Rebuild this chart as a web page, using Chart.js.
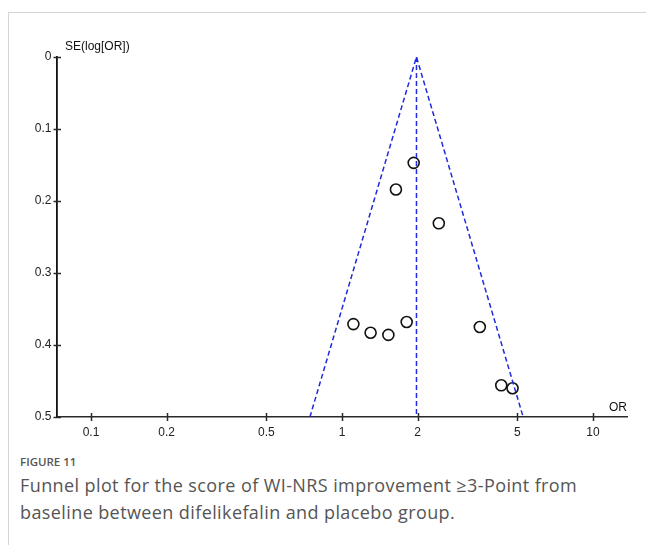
<!DOCTYPE html>
<html>
<head>
<meta charset="utf-8">
<script src="https://cdn.jsdelivr.net/npm/chart.js@4"></script>
<style>
  body { margin: 0; background: #fff; width: 646px; height: 545px; overflow: hidden; position: relative; }
  #frame { position: absolute; left: 8px; top: 12px; right: 0; bottom: 0; border-top: 1px solid #d4d4d4; border-left: 1px solid #d4d4d4; }
  #wrap { position: absolute; left: 0; top: 0; }
  .cap { position: absolute; left: 20px; font-family: "Open Sans", sans-serif; color: #555; }
  #fig { top: 454px; font-size: 11.5px; font-weight: 600; }
  #txt { top: 472px; width: 600px; font-size: 18px; line-height: 27px; letter-spacing: 0.4px; }
</style>
</head>
<body>
<div id="frame"></div>
<div id="wrap"><canvas id="funnel" width="646" height="450"></canvas></div>
<div class="cap" id="fig">FIGURE 11</div>
<div class="cap" id="txt">Funnel plot for the score of WI-NRS improvement ≥3-Point from baseline between difelikefalin and placebo group.</div>

<script>
  // study points
  const studyOR = [1.93, 1.64, 2.43, 1.11, 1.30, 1.53, 1.81, 3.54, 4.31, 4.78];
  const studySE = [0.147, 0.184, 0.231, 0.371, 0.383, 0.386, 0.368, 0.375, 0.456, 0.460];

  // funnel: apex and the two ends at SE = 0.5
  const pooledOR = 1.98;
  const funnelOR = [0.745, 1.98, 5.27];
  const funnelSE = [0.5, 0, 0.5];

  const xTicks = [0.1, 0.2, 0.5, 1, 2, 5, 10];
  const xLabels = ['0.1', '0.2', '0.5', '1', '2', '5', '10'];
  const yTicks = [0, 0.1, 0.2, 0.3, 0.4, 0.5];
  const yLabels = ['0', '0.1', '0.2', '0.3', '0.4', '0.5'];

  const blue = '#1f2bdc';
  const axisCol = '#2a2a2a';
  const font = { family: '"Liberation Sans", Arial, sans-serif', size: 12 };

  // ticks that cross the axis line + axis titles
  const crossTicks = {
    id: 'crossTicks',
    afterDraw(chart) {
      const c = chart.ctx, a = chart.chartArea;
      const sx = chart.scales.x, sy = chart.scales.y;
      c.save();
      c.strokeStyle = axisCol;
      c.lineWidth = 1.5;
      c.beginPath();
      xTicks.forEach(v => {
        const px = Math.round(sx.getPixelForValue(v)) + 0.5;
        c.moveTo(px, a.bottom - 4);
        c.lineTo(px, a.bottom + 4);
      });
      yTicks.forEach(v => {
        const py = Math.round(sy.getPixelForValue(v)) + 0.5;
        c.moveTo(a.left - 3.5, py);
        c.lineTo(a.left + 4, py);
      });
      c.stroke();
      c.fillStyle = '#111';
      c.font = '12px "Liberation Sans", Arial, sans-serif';
      c.textBaseline = 'middle';
      c.textAlign = 'left';
      c.fillText('SE(log[OR])', a.left + 8, a.top - 10);
      c.textAlign = 'right';
      c.fillText('OR', a.right, a.bottom - 9);
      c.restore();
    }
  };

  new Chart(document.getElementById('funnel'), {
    type: 'scatter',
    data: {
      datasets: [
        {
          label: 'funnel',
          type: 'line',
          data: funnelOR.map((x, i) => ({ x: x, y: funnelSE[i] })),
          borderColor: blue,
          borderWidth: 1.5,
          borderDash: [5, 3],
          pointRadius: 0,
          fill: false,
          tension: 0
        },
        {
          label: 'pooled',
          type: 'line',
          data: [{ x: pooledOR, y: 0 }, { x: pooledOR, y: 0.5 }],
          borderColor: blue,
          borderWidth: 1.5,
          borderDash: [5, 3],
          pointRadius: 0,
          fill: false
        },
        {
          label: 'studies',
          data: studyOR.map((x, i) => ({ x: x, y: studySE[i] })),
          pointRadius: 5.5,
          pointBorderWidth: 1.6,
          pointBorderColor: '#111',
          pointBackgroundColor: 'rgba(255,255,255,0)'
        }
      ]
    },
    options: {
      responsive: false,
      animation: false,
      clip: false,
      layout: { padding: { left: 0, top: 57, right: 19, bottom: 10 } },
      plugins: { legend: { display: false }, tooltip: { enabled: false } },
      scales: {
        x: {
          type: 'logarithmic',
          min: 0.0732,
          max: 13.66,
          afterBuildTicks: s => { s.ticks = xTicks.map(v => ({ value: v })); },
          afterFit: s => { s.height = 23; },
          grid: { display: false, drawTicks: false },
          border: { display: true, color: axisCol, width: 1.5 },
          ticks: {
            autoSkip: false,
            maxRotation: 0,
            padding: 8,
            color: '#222',
            font: font,
            callback: (v, i) => xLabels[i]
          }
        },
        y: {
          reverse: true,
          min: 0,
          max: 0.5,
          afterBuildTicks: s => { s.ticks = yTicks.map(v => ({ value: v })); },
          afterFit: s => { s.width = 57; },
          grid: { display: false, drawTicks: false },
          border: { display: true, color: '#111', width: 1.8 },
          ticks: {
            autoSkip: false,
            padding: 5.5,
            color: '#222',
            font: font,
            callback: (v, i) => yLabels[i]
          }
        }
      }
    },
    plugins: [crossTicks]
  });
</script>
</body>
</html>
